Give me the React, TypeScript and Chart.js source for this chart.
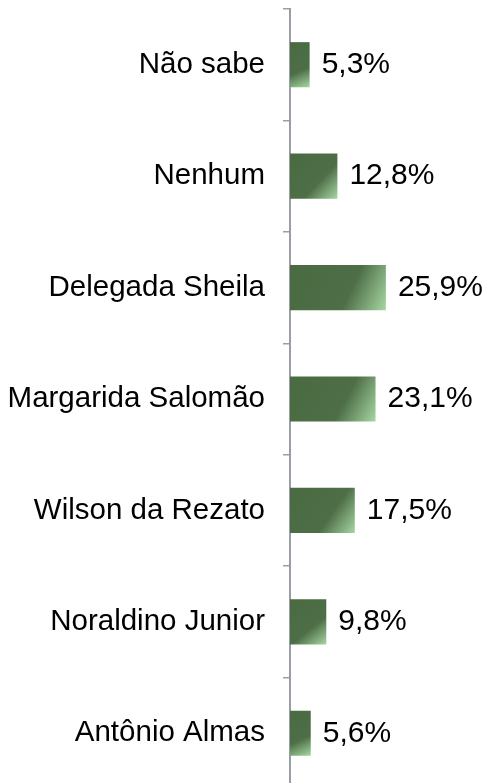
import React, { useEffect, useRef } from "react";
import { Chart, registerables } from "chart.js";

Chart.register(...registerables);

const categories = [
  "Não sabe",
  "Nenhum",
  "Delegada Sheila",
  "Margarida Salomão",
  "Wilson da Rezato",
  "Noraldino Junior",
  "Antônio Almas",
];
const values = [5.3, 12.8, 25.9, 23.1, 17.5, 9.8, 5.6];
const valueLabels = ["5,3%", "12,8%", "25,9%", "23,1%", "17,5%", "9,8%", "5,6%"];

const FONT = "'Liberation Sans', Arial, sans-serif";

const labelPlugin = {
  id: "valueLabels",
  afterDatasetsDraw(chart: any) {
    const ctx = chart.ctx;
    const meta = chart.getDatasetMeta(0);
    ctx.save();
    ctx.font = `30px ${FONT}`;
    ctx.fillStyle = "#000";
    ctx.textAlign = "left";
    ctx.textBaseline = "middle";
    meta.data.forEach((el: any, i: number) => {
      ctx.fillText(valueLabels[i], el.x + 12, el.y);
    });
    ctx.restore();
  },
};

export default function App() {
  const ref = useRef<HTMLCanvasElement>(null);
  useEffect(() => {
    document.body.style.margin = "0";
    document.body.style.overflow = "hidden";
    const chart = new Chart(ref.current!, {
      type: "bar",
      data: {
        labels: categories,
        datasets: [
          {
            data: values,
            categoryPercentage: 1,
            barPercentage: 0.405,
            borderWidth: 0,
            backgroundColor: (c: any) => {
              const ch = c.chart;
              const xs = ch.scales?.x;
              const ys = ch.scales?.y;
              if (!xs || !ys || c.dataIndex === undefined) return "#4b6b43";
              const x0 = xs.getPixelForValue(0);
              const x1 = xs.getPixelForValue(values[c.dataIndex]);
              const yc = ys.getPixelForValue(c.dataIndex);
              if (![x0, x1, yc].every((v) => Number.isFinite(v))) return "#4b6b43";
              const h = 45;
              const g = ch.ctx.createLinearGradient(x0, yc - h / 2, x1, yc + h / 2);
              g.addColorStop(0, "#4a6a42");
              g.addColorStop(0.62, "#4e6e47");
              g.addColorStop(1, "#a6d7a2");
              return g;
            },
          },
        ],
      },
      options: {
        indexAxis: "y",
        animation: false,
        responsive: false,
        maintainAspectRatio: false,
        layout: { padding: { top: 9, bottom: 11, left: 0, right: 0 } },
        plugins: {
          legend: { display: false },
          tooltip: { enabled: false },
        },
        scales: {
          x: {
            display: false,
            min: 0,
            max: 53.2,
          },
          y: {
            afterFit: (s: any) => {
              s.width = 290;
              s.paddingTop = 0;
              s.paddingBottom = 0;
            },
            grid: {
              drawOnChartArea: false,
              tickLength: 7,
              color: "#9a9ea4",
              lineWidth: 1.5,
            },
            border: { color: "#9a9ea4", width: 2 },
            ticks: {
              padding: 18,
              color: "#000",
              font: { family: FONT, size: 29.5 },
            },
          },
        },
      },
      plugins: [labelPlugin],
    });
    return () => chart.destroy();
  }, []);
  return (
    <div style={{ width: 487, height: 783, overflow: "hidden", position: "relative" }}>
      <canvas ref={ref} width={487} height={800} style={{ display: "block" }} />
    </div>
  );
}
